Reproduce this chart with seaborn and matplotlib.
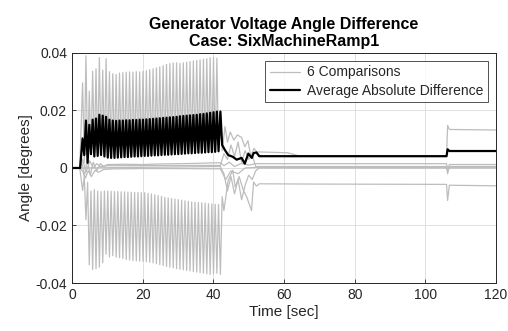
#!/usr/bin/env python3

import numpy as np
import pandas as pd
import seaborn as sns
import matplotlib.pyplot as plt

# oscillation part, one peak and one trough per cycle (t = 3.0 .. 41.0)
n_cycles = 41
peak_t = 3.0 + 0.95 * np.arange(n_cycles)
trough_t = peak_t + 0.475

g1_peaks = [0.0296, 0.0390, 0.0267, 0.0337, 0.0345, 0.0384, 0.0340, 0.0380, 0.0335, 0.0328,
            0.0325, 0.0330, 0.0332, 0.0333, 0.0334, 0.0333, 0.0335, 0.0334, 0.0336, 0.0338,
            0.0342, 0.0345, 0.0348, 0.0352, 0.0356, 0.0360, 0.0363, 0.0365, 0.0366, 0.0364,
            0.0366, 0.0368, 0.0370, 0.0372, 0.0374, 0.0376, 0.0378, 0.0380, 0.0383, 0.0384,
            0.0382]
g1_troughs = [0.0020, 0.0035, 0.0050, 0.0045, 0.0048, 0.0050, 0.0046, 0.0044, 0.0042, 0.0042,
              0.0043, 0.0044, 0.0044, 0.0045, 0.0046, 0.0046, 0.0047, 0.0048, 0.0048, 0.0049,
              0.0050, 0.0050, 0.0051, 0.0052, 0.0052, 0.0053, 0.0054, 0.0054, 0.0055, 0.0055,
              0.0056, 0.0056, 0.0057, 0.0057, 0.0058, 0.0058, 0.0059, 0.0059, 0.0060, 0.0060,
              0.0062]
g2_troughs = [-0.0078, -0.0180, -0.0337, -0.0353, -0.0350, -0.0345, -0.0330, -0.0300, -0.0310, -0.0305,
              -0.0310, -0.0312, -0.0315, -0.0318, -0.0320, -0.0322, -0.0323, -0.0324, -0.0325, -0.0326,
              -0.0328, -0.0330, -0.0333, -0.0336, -0.0339, -0.0342, -0.0345, -0.0347, -0.0350, -0.0352,
              -0.0354, -0.0356, -0.0358, -0.0360, -0.0362, -0.0364, -0.0366, -0.0368, -0.0370, -0.0368,
              -0.0366]
g2_peaks = [-0.0030, -0.0050, -0.0080, -0.0075, -0.0080, -0.0082, -0.0080, -0.0080, -0.0081, -0.0082,
            -0.0082, -0.0083, -0.0083, -0.0084, -0.0084, -0.0085, -0.0085, -0.0086, -0.0086, -0.0088,
            -0.0090, -0.0093, -0.0096, -0.0099, -0.0102, -0.0104, -0.0106, -0.0108, -0.0110, -0.0112,
            -0.0114, -0.0116, -0.0118, -0.0119, -0.0120, -0.0121, -0.0122, -0.0124, -0.0125, -0.0126,
            -0.0127]
avg_tops = [0.0103, 0.0165, 0.0150, 0.0168, 0.0172, 0.0185, 0.0182, 0.0178, 0.0168, 0.0165,
            0.0164, 0.0165, 0.0165, 0.0166, 0.0166, 0.0167, 0.0167, 0.0168, 0.0168, 0.0169,
            0.0170, 0.0171, 0.0172, 0.0173, 0.0174, 0.0175, 0.0176, 0.0177, 0.0178, 0.0180,
            0.0181, 0.0182, 0.0183, 0.0184, 0.0185, 0.0187, 0.0188, 0.0190, 0.0192, 0.0194,
            0.0196]
avg_bottoms = [0.0045, 0.0018, 0.0048, 0.0040, 0.0042, 0.0045, 0.0040, 0.0036, 0.0035, 0.0035,
               0.0036, 0.0037, 0.0038, 0.0038, 0.0039, 0.0040, 0.0040, 0.0041, 0.0042, 0.0042,
               0.0043, 0.0044, 0.0044, 0.0045, 0.0046, 0.0046, 0.0047, 0.0048, 0.0048, 0.0049,
               0.0050, 0.0051, 0.0051, 0.0052, 0.0053, 0.0053, 0.0054, 0.0055, 0.0055, 0.0056,
               0.0058]

# before / after the oscillation
g1_head_t, g1_head_v = [0, 2.2], [0, 0]
g1_tail_t = [42.0, 42.5, 43.3, 44.0, 44.8, 45.8, 46.8, 48.0, 48.9, 49.8, 50.6, 51.5, 52.3, 61.0, 64.0, 106.0, 106.3, 106.8, 120]
g1_tail_v = [0.020, 0.006, 0.0144, 0.009, 0.0125, 0.0097, 0.0115, 0.0106, 0.0074, 0.0095, 0.004, 0.0068, 0.0056, 0.0053, 0.0043, 0.0042, 0.0148, 0.0134, 0.0132]

g2_head_t, g2_head_v = [0, 2.2], [0, 0]
g2_tail_t = [42.0, 42.5, 43.0, 44.2, 45.5, 46.2, 47.3, 48.5, 49.5, 50.8, 51.4, 52.2, 53.0, 70.0, 106.0, 106.3, 106.8, 120]
g2_tail_v = [-0.037, -0.010, -0.0148, -0.0043, -0.0008, -0.0067, -0.003, -0.0078, -0.0102, -0.0148, -0.0049, -0.0063, -0.0055, -0.0056, -0.0057, -0.0113, -0.0060, -0.0062]

avg_head_t, avg_head_v = [0, 2.3], [0, 0]
avg_tail_t = [42.0, 42.5, 43.3, 44.2, 45.5, 46.6, 48.0, 48.9, 49.9, 50.9, 51.4, 52.2, 53.0, 106.0, 106.3, 106.8, 120]
avg_tail_v = [0.0196, 0.008, 0.0062, 0.0045, 0.0039, 0.0029, 0.0035, 0.0015, 0.005, 0.0035, 0.0052, 0.0054, 0.0041, 0.0041, 0.0065, 0.0059, 0.0059]

# lines that stay near zero
g3_t = [0, 2.2, 2.8, 3.5, 4.3, 5.2, 6.0, 7.0, 8.0, 9.0, 10, 15, 20, 25, 30, 35, 40, 42, 43, 44.5, 46, 48, 50, 52, 106, 106.3, 106.8, 120]
g3_v = [0, 0, 0.002, -0.003, 0.003, -0.0025, 0.002, -0.001, 0.0015, 0.0005, 0.0012, 0.0013, 0.0012, 0.0014, 0.0015, 0.0016, 0.0018, 0.0018,
        0.0008, 0.002, 0.0005, 0.0016, 0.001, 0.0015, 0.0015, -0.002, 0.0012, 0.0012]
g4_t = [0, 2.2, 3.0, 3.8, 4.6, 5.5, 6.5, 7.5, 9, 12, 20, 30, 42, 43.5, 45, 47, 49, 52, 106, 106.3, 106.8, 120]
g4_v = [0, 0, -0.001, -0.0035, -0.001, -0.003, -0.0008, -0.0015, -0.0005, -0.0003, -0.0002, -0.0002, -0.0003,
        -0.004, -0.001, -0.002, 0.0, 0.0002, 0.0002, -0.0015, 0.0003, 0.0003]
g5_t = [0, 2.2, 42, 43, 44, 45, 46, 47, 48, 49, 50, 51, 52, 53, 106, 120]
g5_v = [0, 0, 0.0005, -0.002, -0.008, -0.003, -0.009, -0.004, -0.011, -0.006, -0.0025, -0.004, -0.001, 0.0, 0.0, 0.0]
g6_t = [0, 2.2, 3, 4, 5, 6, 7, 8, 10, 42, 43, 44, 45, 46, 47, 48, 49, 50, 51, 52, 106, 120]
g6_v = [0, 0, 0.003, -0.0015, 0.0025, 0.0, 0.0015, 0.0005, 0.0008, 0.0009, 0.005, 0.003, 0.008, 0.004, 0.009,
        0.002, 0.006, 0.003, 0.0045, 0.0005, 0.0005, 0.0005]


def osc(head_t, head_v, first, second, tail_t, tail_v):
    t = np.empty(2 * n_cycles)
    v = np.empty(2 * n_cycles)
    t[0::2], t[1::2] = peak_t, trough_t
    v[0::2], v[1::2] = first, second
    return (np.concatenate([head_t, t, tail_t]),
            np.concatenate([head_v, v, tail_v]))


comparisons = [
    osc(g1_head_t, g1_head_v, g1_peaks, g1_troughs, g1_tail_t, g1_tail_v),
    osc(g2_head_t, g2_head_v, g2_troughs, g2_peaks, g2_tail_t, g2_tail_v),
    (np.array(g3_t), np.array(g3_v)),
    (np.array(g4_t), np.array(g4_v)),
    (np.array(g5_t), np.array(g5_v)),
    (np.array(g6_t), np.array(g6_v)),
]
avg_t, avg_v = osc(avg_head_t, avg_head_v, avg_tops, avg_bottoms, avg_tail_t, avg_tail_v)

sns.set_style('ticks')
plt.rcParams['font.family'] = ['Liberation Sans', 'DejaVu Sans']
plt.rcParams['axes.unicode_minus'] = False

fig = plt.figure(figsize=(5.08, 3.31), dpi=100)
ax = fig.add_axes([0.1417, 0.145, 0.8347, 0.695])

gray = (0.74, 0.74, 0.74)
for i, (t, v) in enumerate(comparisons):
    sns.lineplot(x=t, y=v, ax=ax, color=gray, linewidth=0.9, sort=False,
                 estimator=None, label='6 Comparisons' if i == 0 else None)
sns.lineplot(x=avg_t, y=avg_v, ax=ax, color='black', linewidth=1.6, sort=False,
             estimator=None, label='Average Absolute Difference')

ax.set_xlim(0, 120)
ax.set_ylim(-0.04, 0.04)
ax.set_xticks([0, 20, 40, 60, 80, 100, 120])
ax.set_yticks([-0.04, -0.02, 0, 0.02, 0.04])
ax.set_yticklabels(['-0.04', '-0.02', '0', '0.02', '0.04'])
ax.grid(True, color=(0.88, 0.88, 0.88), linewidth=0.7)
ax.set_axisbelow(True)
for s in ax.spines.values():
    s.set_visible(True)
    s.set_color((0.15, 0.15, 0.15))
    s.set_linewidth(0.7)
ax.tick_params(direction='in', length=3, width=0.6, labelsize=10,
               colors=(0.15, 0.15, 0.15), top=False, right=False)

ax.set_xlabel('Time [sec]', fontsize=11, labelpad=2)
ax.set_ylabel('Angle [degrees]', fontsize=11, labelpad=2)
ax.set_title('Generator Voltage Angle Difference\nCase: SixMachineRamp1',
             fontsize=11.5, fontweight='bold', linespacing=1.2, pad=5,
             color='black')

leg = ax.legend(loc='upper right', fontsize=10, frameon=True, fancybox=False,
                borderaxespad=0.55, handlelength=2.2, labelspacing=0.3,
                borderpad=0.35, handletextpad=0.5)
leg.get_frame().set_edgecolor((0.15, 0.15, 0.15))
leg.get_frame().set_linewidth(0.7)

plt.savefig('out.png', dpi=100)
